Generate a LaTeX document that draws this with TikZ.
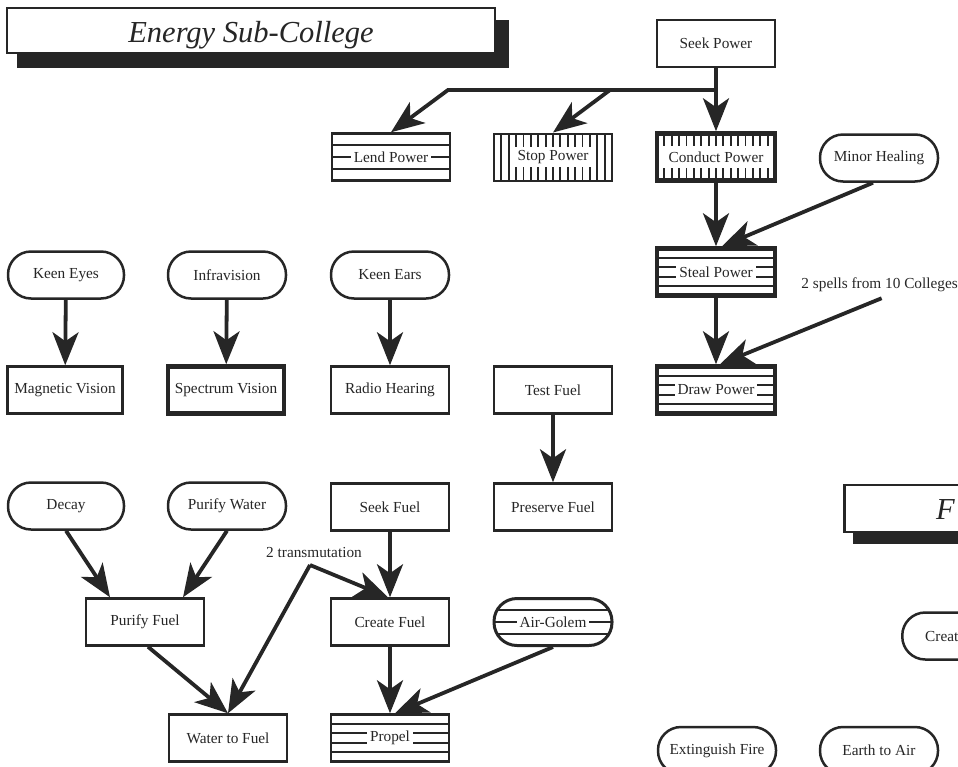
\documentclass[tikz,border=0pt]{standalone}
\usepackage{fontspec}
\setmainfont{Liberation Serif}
\usetikzlibrary{arrows.meta,calc}
\definecolor{ink}{RGB}{38,38,38}
\newcommand\nodefont{\fontsize{15.3}{17}\selectfont}
\newcommand\titlefont{\fontsize{30.5}{34}\selectfont\itshape}
\begin{document}
\begin{tikzpicture}[x=1pt,y=-1pt,
 box/.style={draw=ink, line width=2.5pt, fill=white, minimum width=118pt, minimum height=47pt, inner sep=0pt, font=\nodefont, text=ink},
 thick box/.style={box, line width=4.5pt},
 rnd/.style={box, rounded corners=23pt},
 hlines/.style={path picture={\foreach \f in {#1}{\draw[ink,line width=1.8pt] ($(path picture bounding box.north west)!\f!(path picture bounding box.south west)$) -- ($(path picture bounding box.north east)!\f!(path picture bounding box.south east)$);}}},
 vlines/.style={path picture={\foreach \i in {1,...,15}{\draw[ink,line width=1.8pt] ($(path picture bounding box.north west)!\i/16!(path picture bounding box.north east)$) -- ($(path picture bounding box.south west)!\i/16!(path picture bounding box.south east)$);}}},
 band/.style={fill=white, inner xsep=3pt, inner ysep=1pt, minimum height=14pt, font=\nodefont, text=ink},
 conn/.style={draw=ink, line width=3.8pt, -{Stealth[length=33pt,width=26pt,inset=9pt]}},
 lbl/.style={font=\nodefont, text=ink, inner sep=0pt},
]
\useasboundingbox (0,0) rectangle (958,766);
\clip (0,0) rectangle (958,766);

% titles
\fill[ink] (17,20) rectangle (509,68);
\node[draw=ink, line width=2.5pt, fill=white, minimum width=488pt, minimum height=45pt, inner sep=0pt] (title) at (251,30.5) {};
\node[font=\titlefont, text=ink, inner sep=0pt, anchor=base] (titleT) at (251,42) {Energy Sub-College};
\fill[ink] (853,497) rectangle (1000,544);
\node[draw=ink, line width=2.5pt, fill=white, minimum width=160pt, minimum height=47pt, anchor=west] (title2) at (843,508.5) {};
\node[font=\titlefont, text=ink, anchor=base west, inner sep=0pt] (title2T) at (936,519) {F};

% power
\node[box] (seekp) at (716,43.5) {Seek Power};
\node[box,hlines={0.25,0.5,0.75}] (lend) at (391,157) {};
\node[band] (lendT) at (lend) {Lend Power};
\node[box,line width=2pt,vlines] (stop) at (553,157) {};
\node[band, minimum height=20pt] (stopT) at (stop) {Stop Power};
\node[thick box,vlines] (cond) at (716,157) {};
\node[band, minimum width=108pt, minimum height=22pt] (condT) at (cond) {Conduct Power};
\node[rnd] (minor) at (879,158) {Minor Healing};
\node[thick box,hlines={0.2,0.4,0.6,0.8}] (steal) at (716,272) {};
\node[band] (stealT) at (steal) {Steal Power};
\node[thick box,hlines={0.2,0.4,0.6,0.8}] (drawp) at (716,390) {};
\node[band] (drawT) at (drawp) {Draw Power};
\node[lbl, anchor=east] (spells) at (958,285) {2 spells from 10 Colleges};

% vision
\node[rnd, minimum width=116pt] (keye) at (66,275) {Keen Eyes};
\node[rnd] (infra) at (227,275) {Infravision};
\node[rnd] (kear) at (390,275) {Keen Ears};
\node[box, minimum width=115pt] (magv) at (65,390) {Magnetic Vision};
\node[thick box, minimum width=116pt] (specv) at (226,390) {Spectrum Vision};
\node[box] (radio) at (390,390) {Radio Hearing};
\node[box] (testf) at (553,390) {Test Fuel};
\node[box] (presf) at (553,507) {Preserve Fuel};

% fuel
\node[rnd, minimum width=116pt] (decay) at (66,506) {Decay};
\node[rnd] (purw) at (227,506) {Purify Water};
\node[box] (purf) at (145,622) {Purify Fuel};
\node[box] (wtf) at (228,738) {Water to Fuel};
\node[box] (seekf) at (390,507) {Seek Fuel};
\node[box] (creatf) at (390,622) {Create Fuel};
\node[rnd, hlines={0.25,0.5,0.75}, line width=3pt] (golem) at (553,622) {};
\node[band] (golemT) at (golem) {Air-Golem};
\node[box, hlines={0.2,0.4,0.6,0.8}] (propel) at (390,738) {};
\node[band] (propelT) at (propel) {Propel};
\node[lbl] (trans) at (314,552) {2 transmutation};

% right edge
\node[rnd] (exting) at (717,750.5) {Extinguish Fire};
\node[rnd] (e2a) at (879,750.5) {Earth to Air};
\node[rnd, anchor=west] (creat) at (901,636) {};
\node[lbl, anchor=west] (creatT) at (925,636) {Creat};

% connectors
\coordinate (j1) at (716,90);
\coordinate (j2) at (448,90);
\coordinate (j3) at (610,90);
\coordinate (tc) at (310,565);
\draw[conn] (seekp) -- (cond);
\draw[conn] (j1) -- (j2) -- (lend.north);
\draw[conn] (j3) -- (stop.north);
\draw[conn] (cond) -- (steal);
\draw[conn] ([xshift=-6pt]minor.south) -- ([xshift=6pt]steal.north);
\draw[conn] (steal) -- (drawp);
\draw[conn] ([xshift=2pt,yshift=-6pt]spells.south) -- ([xshift=4pt]drawp.north);
\draw[conn] (keye) -- (magv);
\draw[conn] (infra) -- (specv);
\draw[conn] (kear) -- (radio);
\draw[conn] (testf) -- (presf);
\draw[conn] (decay.south) -- ([xshift=-35pt]purf.north);
\draw[conn] (purw.south) -- ([xshift=38pt]purf.north);
\draw[conn] ([xshift=3pt]purf.south) -- (wtf.north);
\draw[conn] (tc) -- (wtf.north);
\draw[conn] (tc) -- ([xshift=-2pt]creatf.north);
\draw[conn] (seekf) -- (creatf);
\draw[conn] (creatf) -- (propel);
\draw[conn] (golem.south) -- ([xshift=5pt]propel.north);
\end{tikzpicture}
\end{document}
